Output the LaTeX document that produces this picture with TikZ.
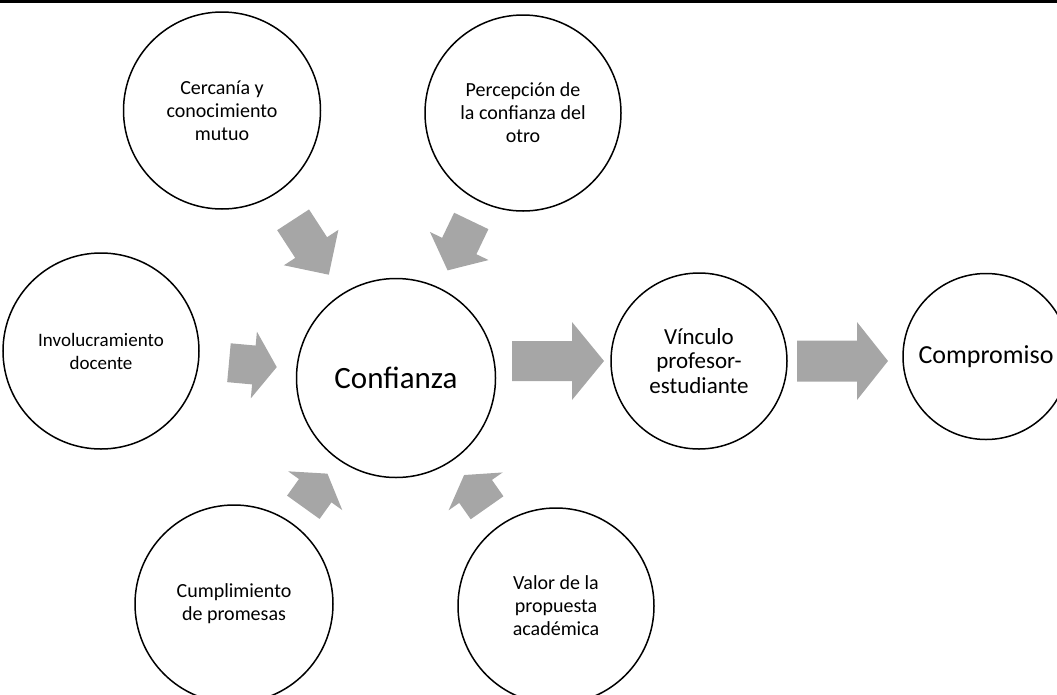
\documentclass[tikz,border=0pt]{standalone}
\usepackage{fontspec}
\setmainfont{Carlito}
\usetikzlibrary{calc}
\definecolor{arrowgray}{HTML}{A6A6A6}
\tikzset{
  bubble/.style={circle, draw=black, line width=1.5pt, fill=white, inner sep=0pt, align=center, text=black},
  smalltext/.style={font=\fontsize{20}{23}\selectfont},
  arrowbody/.style={fill=arrowgray, draw=none},
}
% Block arrow laid along the line from #1 to #2:
% #3 back distance, #4 tip distance (both from #1),
% #5 half shaft width, #6 half head width, #7 head length
\newcommand\blockarrow[7]{%
  \coordinate (ba-back) at ($(#1)!#3!(#2)$);
  \coordinate (ba-tip) at ($(#1)!#4!(#2)$);
  \coordinate (ba-neck) at ($(ba-tip)!#7!(ba-back)$);
  \fill[arrowbody] ($(ba-back)!#5!90:(ba-tip)$) -- ($(ba-neck)!#5!90:(ba-tip)$)
    -- ($(ba-neck)!#6!90:(ba-tip)$) -- (ba-tip) -- ($(ba-neck)!#6!-90:(ba-tip)$)
    -- ($(ba-neck)!#5!-90:(ba-tip)$) -- ($(ba-back)!#5!-90:(ba-tip)$) -- cycle;
}
\begin{document}
\begin{tikzpicture}[x=1pt,y=-1pt]
\useasboundingbox (0,0) rectangle (1057,694);
\clip (0,0) rectangle (1057,694);
% top rule
\fill[black] (0,0) rectangle (1057,3);

% factors around the central idea
\node[bubble, smalltext, minimum size=197pt] (cerc) at (222,110.5) {Cercanía y\\conocimiento\\mutuo};
\node[bubble, smalltext, minimum size=196pt] (perc) at (523,113) {Percepción de\\la confianza del\\otro};
\node[bubble, font=\fontsize{19}{23}\selectfont, minimum size=196pt] (invol) at (101,351) {Involucramiento\\docente};
\node[bubble, smalltext, minimum size=198pt] (cump) at (234,604) {Cumplimiento\\de promesas};
\node[bubble, smalltext, minimum size=196pt] (valor) at (556,606) {Valor de la\\propuesta\\académica};

% central idea and its outcomes
\node[bubble, font=\fontsize{31}{36}\selectfont, minimum size=199pt] (conf) at (396,378) {Confianza};
\node[bubble, font=\fontsize{23}{24.5}\selectfont, minimum size=176pt] (vinc) at (699,361) {Vínculo\\profesor-\\estudiante};
\node[bubble, font=\fontsize{26}{30}\selectfont, minimum size=166pt] (comp) at (986,356.5) {Compromiso};

% helper points for the horizontal arrows
\coordinate (cv) at (conf.center |- vinc.center);
\coordinate (vc) at (vinc.center -| comp.center);

% arrows into Confianza
\blockarrow{cerc.center}{conf.center}{130.4pt}{195.9pt}{19pt}{32.5pt}{32.4pt}
\blockarrow{perc.center}{conf.center}{119.7pt}{174.5pt}{19pt}{32.5pt}{27pt}
\blockarrow{invol.center}{conf.center}{128.5pt}{176.5pt}{19.5pt}{33.5pt}{23pt}
\blockarrow{cump.center}{conf.center}{119pt}{160.4pt}{20pt}{33.3pt}{21pt}
\blockarrow{valor.center}{conf.center}{120pt}{160pt}{20pt}{33pt}{20pt}

% arrows to the outcomes
\blockarrow{cv}{vinc.center}{116pt}{208pt}{20pt}{39pt}{32pt}
\blockarrow{vinc.center}{vc}{98pt}{189pt}{20.5pt}{39pt}{31pt}
\end{tikzpicture}
\end{document}
